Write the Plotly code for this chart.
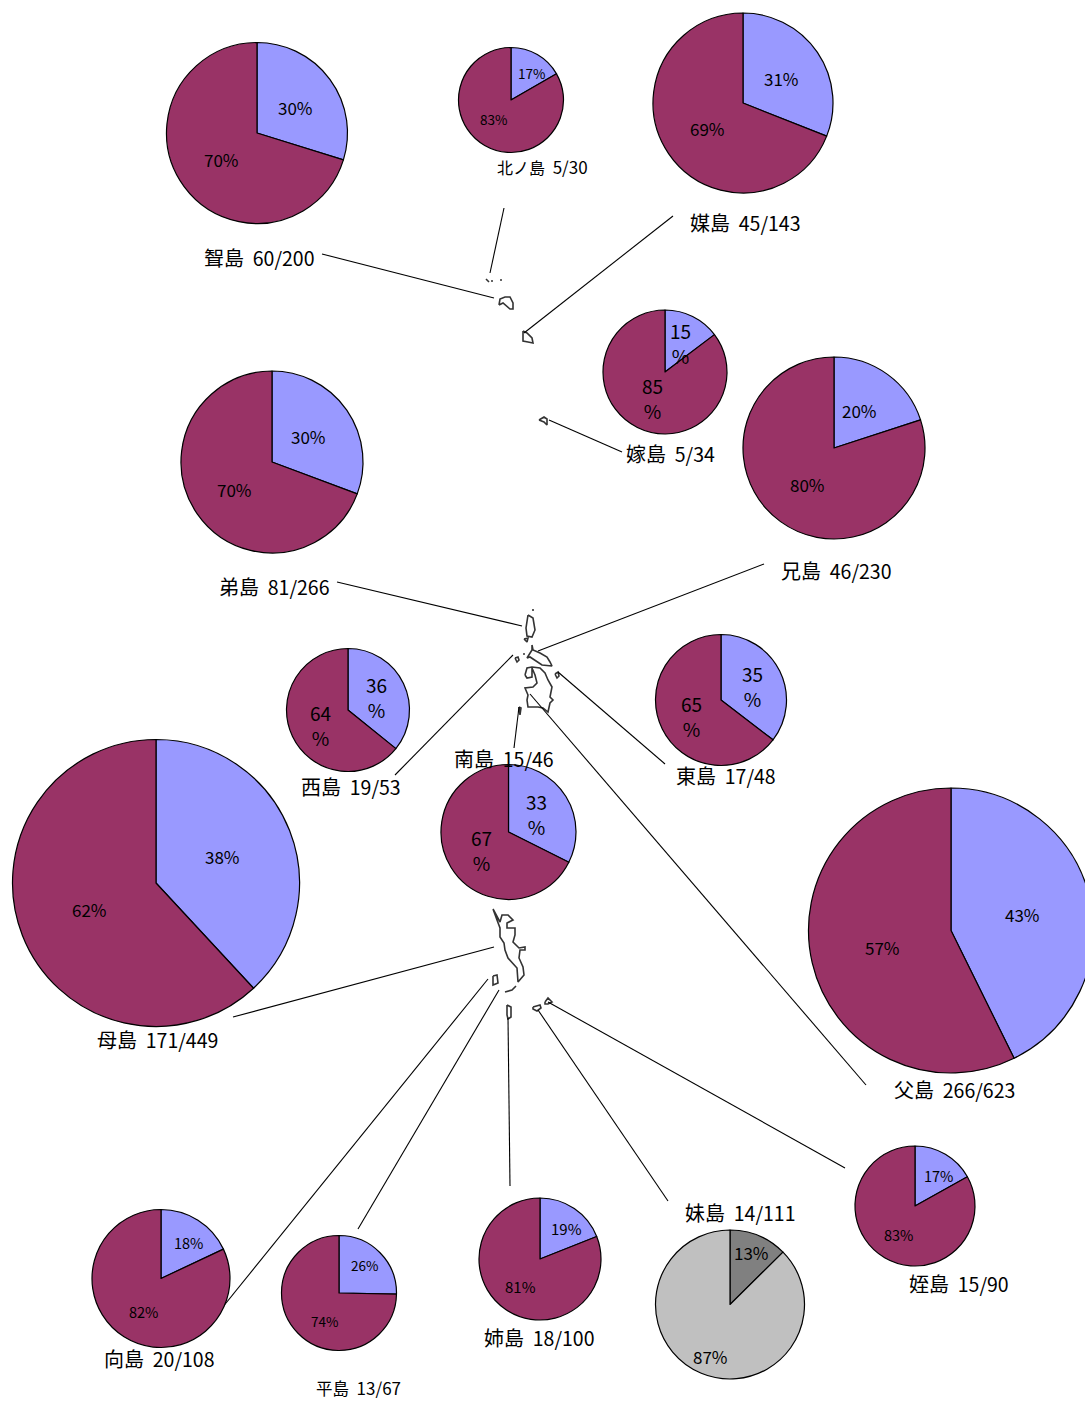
import plotly.graph_objects as go

# ---------- data ----------
islands = ["聟島", "北ノ島", "媒島", "嫁島", "弟島", "兄島", "西島", "東島", "南島",
           "母島", "父島", "姪島", "妹島", "向島", "平島", "姉島"]
found = [60, 5, 45, 5, 81, 46, 19, 17, 15, 171, 266, 15, 14, 20, 13, 18]
total = [200, 30, 143, 34, 266, 230, 53, 48, 46, 449, 623, 90, 111, 108, 67, 100]
pct_a = [30, 17, 31, 15, 30, 20, 36, 35, 33, 38, 43, 17, 13, 18, 26, 19]
pct_b = [70, 83, 69, 85, 70, 80, 64, 65, 67, 62, 57, 83, 87, 82, 74, 81]
# share of each pie as drawn
slice_a = [29.8, 16.7, 31, 14.7, 30.7, 20, 35.8, 35.4, 32.4, 38.1, 42.7, 16.9, 12.6, 18, 25.3, 19]
slice_b = [70.2, 83.3, 69, 85.3, 69.3, 80, 64.2, 64.6, 67.6, 61.9, 57.3, 83.1, 87.4, 82, 74.7, 81]

# ---------- layout of the page ----------
W, H = 1100, 1401
FONT = "Noto Sans CJK JP"
COL_A, COL_B = "#9999FF", "#993366"
GRAY_A, GRAY_B = "#808080", "#C0C0C0"
TEXT_DY = -2

pie_cx = [257, 511, 743, 665, 272, 834, 348, 721, 508.5, 156, 951, 915, 730, 161, 339, 540]
pie_cy = [133, 100, 103, 372, 462, 448, 710, 700, 832, 883, 930.5, 1206, 1304.5, 1278.5, 1293, 1259]
pie_r = [90.5, 52.5, 90, 62, 91, 91, 61.5, 65.5, 67.5, 143.5, 142.5, 60, 74.5, 69, 57.5, 61]

label_x = [259, 542, 745, 670, 274, 836, 351, 726, 504, 157, 954, 959, 740, 159, 358, 539]
label_y = [259, 168, 224, 455, 588, 572, 788, 777, 760, 1041, 1091, 1285, 1214, 1360, 1389, 1339]
label_size = [19.5, 17, 19.5, 19.5, 19.5, 19.5, 19.5, 19.5, 19.5, 19.5, 19.5, 19.5, 19.5, 19.5, 17, 19.5]
kanji_size = [20, 16, 20, 20, 20, 20, 20, 20, 20, 20, 20, 20, 20, 20, 16.5, 20]

a_x = [295, 531, 781, 680, 308, 859, 376, 752, 536, 222, 1022, 938, 751, 188, 364, 566]
a_y = [109, 75, 80, 345, 438, 412, 699, 688, 816, 858, 916, 1177, 1254, 1244, 1267, 1230]
b_x = [221, 493, 707, 652, 234, 807, 320, 691, 481, 89, 882, 898, 710, 143, 324, 520]
b_y = [161, 121, 130, 400, 491, 486, 727, 718, 852, 911, 949, 1236, 1358, 1313, 1323, 1288]
pct_size = [17, 13.5, 17, 19, 17, 17, 19, 19, 19, 17, 17, 14.5, 17, 14.5, 13.5, 15]
wrapped = [False, False, False, True, False, False, True, True, True,
           False, False, False, False, False, False, False]

leaders = [
    [(322, 254), (494, 298)], [(504, 208), (490, 273)], [(673, 216), (524, 333)],
    [(622, 452), (549, 420)], [(337, 582), (522, 626)], [(764, 564), (538, 651)],
    [(513, 655), (395, 775)], [(558, 672), (665, 764)], [(519, 707), (514, 748)],
    [(494, 947), (233, 1017)], [(530, 694), (866, 1085)], [(548, 1002), (845, 1168)],
    [(538, 1010), (668, 1201)], [(488, 979), (222, 1308)], [(499, 990), (358, 1229)],
    [(508, 1018), (510, 1186)],
]

coast = [
    [(486, 279), (489, 282)], [(491, 281), (493, 281)], [(500, 280), (502, 280)],
    [(499, 305), (500, 299), (505, 297), (510, 297), (513, 303), (513, 309), (510, 309), (506, 305), (503, 303), (499, 305)],
    [(523, 331), (527, 333), (532, 338), (533, 343), (528, 342), (523, 341), (523, 337), (523, 331)],
    [(539, 420), (544, 417), (547, 419), (547, 425), (544, 422), (539, 420)],
    [(533, 609), (533, 611)],
    [(528, 615), (533, 618), (535, 630), (532, 637), (527, 636), (526, 628), (528, 615)],
    [(524, 639), (528, 638), (527, 642), (524, 639)],
    [(532, 645), (533, 650), (540, 653), (547, 657), (550, 662), (552, 666), (542, 665), (537, 662), (530, 657), (527, 658), (532, 650), (532, 645)],
    [(515, 658), (518, 657), (519, 660), (517, 662), (515, 658)],
    [(523, 654), (525, 654)],
    [(525, 675), (527, 668), (532, 667), (540, 668), (545, 673), (548, 680), (552, 687), (550, 697), (553, 700), (550, 703), (548, 712), (543, 708), (538, 707), (528, 707), (527, 700), (528, 695), (525, 688), (533, 687), (537, 683), (535, 675), (532, 668), (532, 677), (527, 678), (525, 675)],
    [(555, 674), (558, 672), (559, 676), (557, 678), (555, 674)],
    [(519, 707), (521, 708), (520, 715), (519, 707)],
    [(493, 909), (497, 917), (500, 922), (502, 915), (508, 915), (513, 920), (507, 923), (507, 928), (515, 928), (515, 935), (513, 942), (519, 948), (525, 947), (525, 950), (520, 950), (519, 958), (523, 967), (524, 975), (518, 982), (517, 968), (512, 963), (508, 958), (505, 950), (504, 943), (500, 937), (500, 928), (497, 920), (493, 909)],
    [(505, 992), (512, 990), (516, 986)],
    [(493, 976), (497, 975), (498, 983), (493, 985), (493, 976)],
    [(507, 1005), (511, 1007), (511, 1017), (508, 1019), (507, 1015), (507, 1005)],
    [(533, 1007), (540, 1005), (541, 1008), (537, 1011), (533, 1009), (533, 1007)],
    [(545, 1002), (548, 998), (552, 1002), (548, 1004), (545, 1004), (545, 1002)],
]

fig = go.Figure()


def polyline(points, width, color):
    fig.add_trace(go.Scatter(x=[p[0] for p in points], y=[p[1] for p in points],
                             mode="lines", line=dict(color=color, width=width),
                             hoverinfo="skip", showlegend=False))


for outline in coast:
    polyline(outline, 1.6, "#333333")
for seg in leaders:
    polyline(seg, 1.1, "#000000")

annotations = []


def note(text, x, y, size):
    annotations.append(dict(text=text, x=x, y=y + TEXT_DY, xref="x", yref="y", showarrow=False,
                            xanchor="center", yanchor="middle",
                            font=dict(family=FONT, size=size, color="#000000")))


for i, name in enumerate(islands):
    cx, cy, r = pie_cx[i], pie_cy[i], pie_r[i]
    colors = [GRAY_A, GRAY_B] if name == "妹島" else [COL_A, COL_B]
    fig.add_trace(go.Pie(
        values=[slice_a[i], slice_b[i]], labels=["a", "b"], sort=False, direction="clockwise",
        rotation=0, textinfo="none", hoverinfo="skip", showlegend=False,
        marker=dict(colors=colors, line=dict(color="#000000", width=1.2)),
        domain=dict(x=[max(0, (cx - r) / W), min(1, (cx + r) / W)],
                    y=[1 - (cy + r) / H, 1 - (cy - r) / H]),
    ))
    label = (f'<span style="font-size:{kanji_size[i]}px">{name}</span>'
             f"\u00a0\u00a0{found[i]}/{total[i]}")
    note(label, label_x[i], label_y[i], label_size[i])
    tail = "<br>%" if wrapped[i] else "%"
    note(f"{pct_a[i]}{tail}", a_x[i], a_y[i], pct_size[i])
    note(f"{pct_b[i]}{tail}", b_x[i], b_y[i], pct_size[i])

fig.update_layout(
    width=W, height=H, autosize=False,
    margin=dict(l=0, r=0, t=0, b=0),
    paper_bgcolor="#FFFFFF", plot_bgcolor="#FFFFFF",
    xaxis=dict(range=[0, W], visible=False, fixedrange=True),
    yaxis=dict(range=[H, 0], visible=False, fixedrange=True),
    annotations=annotations,
    showlegend=False,
)

fig.write_html("out.html", config=dict(displayModeBar=False),
               post_script="document.body.style.margin='0';document.documentElement.style.overflow='hidden';document.body.style.overflow='hidden';")
